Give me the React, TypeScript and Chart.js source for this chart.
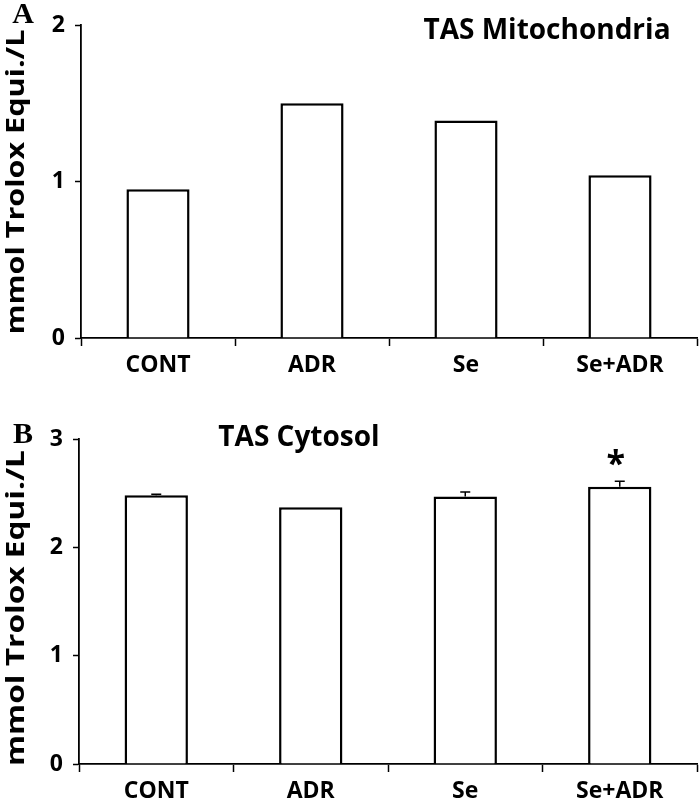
import React, { useEffect, useRef } from "react";
import { Chart, registerables } from "chart.js";

Chart.register(...registerables);

const categories = ["CONT", "ADR", "Se", "Se+ADR"];
const mitoValues = [0.95, 1.5, 1.39, 1.04];
const mitoTicks = [0, 1, 2];
const cytoValues = [2.48, 2.37, 2.47, 2.56];
const cytoErrors = [0.01, 0, 0.04, 0.05];
const cytoMarks = ["", "", "", "*"];
const cytoTicks = [0, 1, 2, 3];
const yTitle = "mmol Trolox Equi./L";

const FONT = '"Open Sans", "DejaVu Sans", sans-serif';

type Panel = {
  letter: string;
  title: string;
  values: number[];
  errors: number[] | null;
  marks: string[] | null;
  ticks: number[];
  height: number;
  axisLeft: number;
  top: number;
  bottom: number;
  titleX: number;
  titleY: number;
  letterY: number;
  yTitleLen: number;
  yTitleCenter: number;
};

const panels: Panel[] = [
  {
    letter: "A",
    title: "TAS Mitochondria",
    values: mitoValues,
    errors: null,
    marks: null,
    ticks: mitoTicks,
    height: 400,
    axisLeft: 81,
    top: 25,
    bottom: 338,
    titleX: 547,
    titleY: 31,
    letterY: 15,
    yTitleLen: 305,
    yTitleCenter: 182,
  },
  {
    letter: "B",
    title: "TAS Cytosol",
    values: cytoValues,
    errors: cytoErrors,
    marks: cytoMarks,
    ticks: cytoTicks,
    height: 407,
    axisLeft: 79,
    top: 39,
    bottom: 364,
    titleX: 299,
    titleY: 38,
    letterY: 35,
    yTitleLen: 316,
    yTitleCenter: 208,
  },
];

function decor(p: Panel) {
  return {
    id: "decor" + p.letter,
    afterDatasetsDraw(chart: any) {
      const ctx = chart.ctx as CanvasRenderingContext2D;
      const xs = chart.scales.x;
      const ys = chart.scales.y;
      ctx.save();
      if (p.errors) {
        ctx.strokeStyle = "#000";
        ctx.lineWidth = 1.5;
        p.errors.forEach((e, i) => {
          if (!e) return;
          const x = xs.getPixelForValue(i);
          const y0 = ys.getPixelForValue(p.values[i]);
          const y1 = ys.getPixelForValue(p.values[i] + e);
          ctx.beginPath();
          ctx.moveTo(x, y0);
          ctx.lineTo(x, y1);
          ctx.moveTo(x - 5, y1);
          ctx.lineTo(x + 5, y1);
          ctx.stroke();
        });
      }
      if (p.marks) {
        ctx.fillStyle = "#000";
        ctx.font = `bold 34px ${FONT}`;
        ctx.textAlign = "center";
        ctx.textBaseline = "alphabetic";
        p.marks.forEach((m, i) => {
          if (!m) return;
          const x = xs.getPixelForValue(i) - 4;
          const top = ys.getPixelForValue(p.values[i] + (p.errors ? p.errors[i] : 0));
          const mt = ctx.measureText(m);
          const bottom = top - 15;
          ctx.fillText(m, x, bottom - mt.actualBoundingBoxDescent);
        });
      }
      ctx.fillStyle = "#000";
      ctx.font = `bold 28px ${FONT}`;
      ctx.textAlign = "center";
      ctx.textBaseline = "middle";
      ctx.fillText(p.title, p.titleX, p.titleY);
      ctx.font = 'bold 30px "Liberation Serif", "Times New Roman", serif';
      ctx.fillText(p.letter, 23, p.letterY);
      ctx.font = `bold 25px ${FONT}`;
      const w = ctx.measureText(yTitle).width;
      ctx.translate(17, p.yTitleCenter);
      ctx.rotate(-Math.PI / 2);
      ctx.scale(p.yTitleLen / w, 1);
      ctx.fillText(yTitle, 0, 0);
      ctx.restore();
    },
  };
}

function PanelChart({ p }: { p: Panel }) {
  const ref = useRef<HTMLCanvasElement>(null);
  useEffect(() => {
    if (!ref.current) return;
    const chart = new Chart(ref.current, {
      type: "bar",
      data: {
        labels: categories,
        datasets: [
          {
            data: p.values,
            backgroundColor: "#fff",
            borderColor: "#000",
            borderWidth: 2.5,
            categoryPercentage: 1,
            barPercentage: 0.41,
          },
        ],
      },
      options: {
        animation: false,
        responsive: false,
        maintainAspectRatio: false,
        layout: { padding: { top: p.top, right: 2, left: 0, bottom: 0 } },
        plugins: { legend: { display: false }, tooltip: { enabled: false }, title: { display: false } },
        scales: {
          x: {
            type: "category",
            offset: true,
            grid: {
              offset: true,
              drawOnChartArea: false,
              drawTicks: true,
              tickLength: 8,
              tickColor: "#000",
              tickWidth: 1.5,
            },
            border: { color: "#000", width: 1.8 },
            ticks: {
              color: "#000",
              font: { family: FONT, weight: "bold", size: 23 },
              padding: 6,
              maxRotation: 0,
            },
            afterFit: (s: any) => {
              s.height = p.height - p.bottom;
            },
          },
          y: {
            min: 0,
            max: p.ticks[p.ticks.length - 1],
            grid: {
              drawOnChartArea: false,
              drawTicks: true,
              tickLength: 6,
              tickColor: "#000",
              tickWidth: 1.5,
            },
            border: { color: "#000", width: 1.8 },
            ticks: {
              color: "#000",
              font: { family: FONT, weight: "bold", size: 23 },
              padding: 10,
            },
            afterBuildTicks: (s: any) => {
              s.ticks = p.ticks.map((v) => ({ value: v }));
            },
            afterFit: (s: any) => {
              s.width = p.axisLeft;
            },
          },
        },
      } as any,
      plugins: [decor(p)],
    });
    return () => chart.destroy();
  }, [p]);
  return (
    <canvas
      ref={ref}
      width={699}
      height={p.height}
      style={{ display: "block", width: 699, height: p.height }}
    />
  );
}

export default function App() {
  return (
    <div
      style={{
        position: "absolute",
        left: 0,
        top: 0,
        width: 699,
        height: 807,
        background: "#fff",
      }}
    >
      {panels.map((p) => (
        <PanelChart key={p.letter} p={p} />
      ))}
    </div>
  );
}
